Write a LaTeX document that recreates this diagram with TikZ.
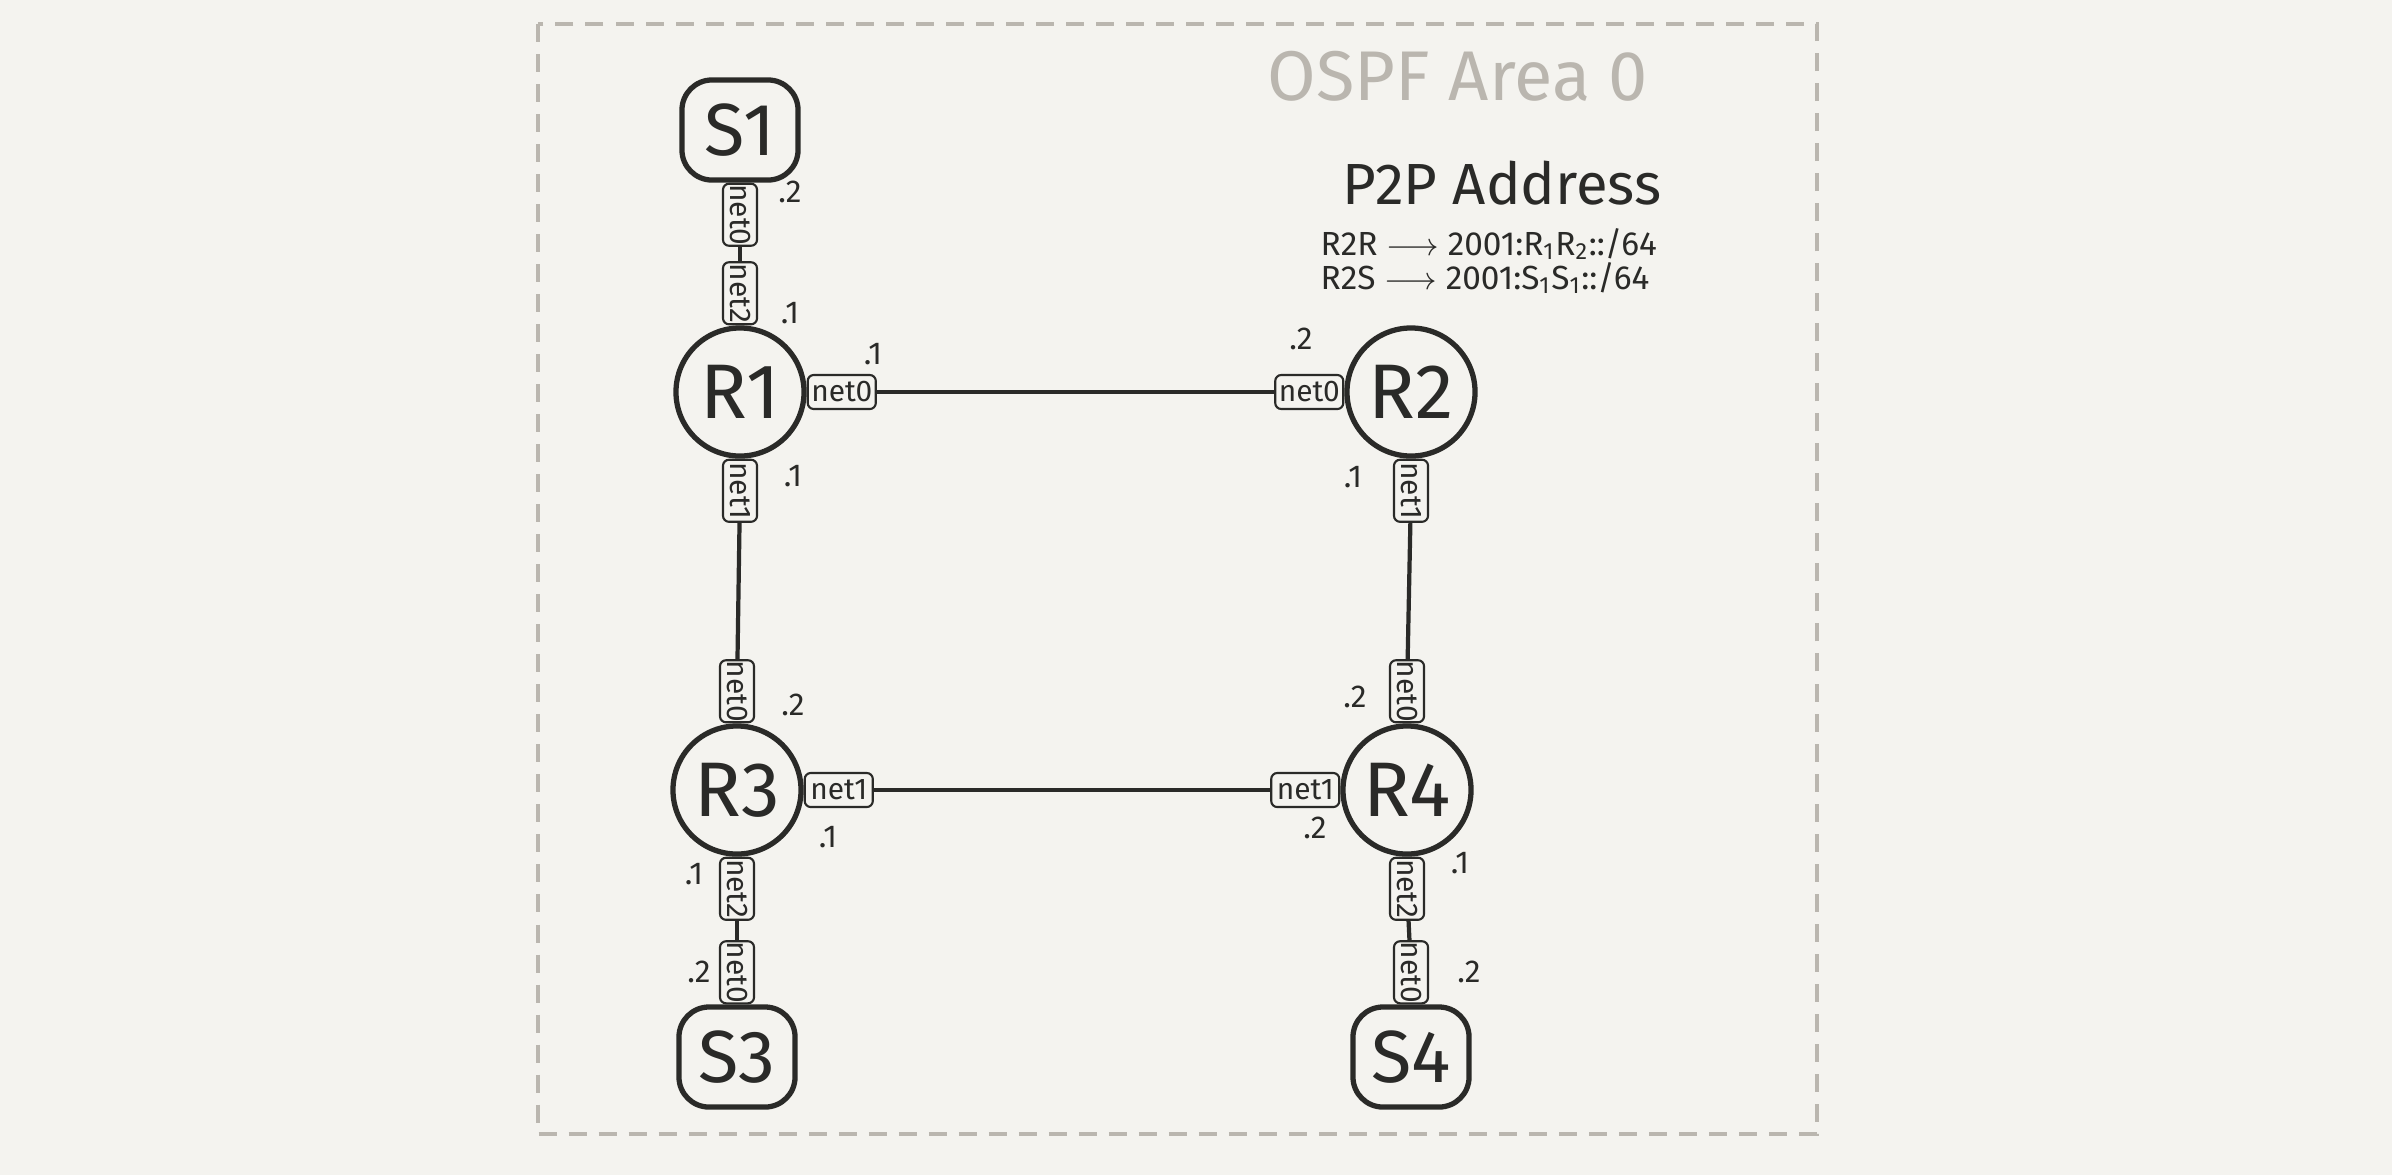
\documentclass[tikz,border=0pt]{standalone}
\usepackage{fontspec}
\setmainfont{Fira Sans}
\usetikzlibrary{positioning}
\definecolor{paper}{HTML}{F4F3EF}
\definecolor{ink}{HTML}{2A2A28}
\definecolor{pencil}{HTML}{BAB6AF}
\newcommand{\vnet}[1]{\rotatebox{-90}{#1}}

\begin{document}
\begin{tikzpicture}[
  x=0.01cm, y=-0.01cm,
  router/.style={draw=ink, line width=1.5pt, circle, minimum size=1.28cm, inner sep=0pt, text=ink, font=\fontsize{22}{26}\selectfont},
  server/.style={draw=ink, line width=1.5pt, rounded corners=0.3cm, minimum width=1.16cm, minimum height=1.0cm, inner sep=0pt, text=ink, font=\fontsize{21}{25}\selectfont},
  iface/.style={draw=ink, line width=0.6pt, rounded corners=0.06cm, minimum width=0.68cm, minimum height=0.34cm, inner sep=0pt, text=ink, font=\fontsize{8.5}{9}\selectfont},
  ifacev/.style={iface, minimum width=0.34cm, minimum height=0.62cm},
  addr/.style={inner sep=0pt, text=ink, font=\fontsize{9}{10}\selectfont},
  link/.style={draw=ink, line width=1.2pt}
]
\fill[paper] (0,0) rectangle (2392,1175);
\path[use as bounding box] (0,0) rectangle (2392,1175);

% Area 0
\draw[pencil, line width=1.3pt, dash pattern=on 0.18cm off 0.12cm] (538,24) rectangle (1817,1134);
\node[text=pencil, font=\fontsize{20}{24}\selectfont] (area) at (1458,76) {OSPF Area 0};

% Address plan
\node[text=ink, font=\fontsize{16.5}{20}\selectfont] (plan) at (1502,183) {P2P Address};
\node[anchor=west, inner sep=0pt, text=ink, font=\fontsize{9.5}{12}\selectfont] (r2r) at (1320,244) {R2R $\longrightarrow$ 2001:R\textsubscript{1}R\textsubscript{2}::/64};
\node[anchor=west, inner sep=0pt, text=ink, font=\fontsize{9.5}{12}\selectfont] (r2s) at (1320,278) {R2S $\longrightarrow$ 2001:S\textsubscript{1}S\textsubscript{1}::/64};

% Routers and servers
\node[server] (S1) at (740,130) {S1};
\node[router] (R1) at (740,392) {R1};
\node[router] (R2) at (1411,392) {R2};
\node[router] (R3) at (737,790) {R3};
\node[router] (R4) at (1407,790) {R4};
\node[server] (S3) at (737,1057) {S3};
\node[server] (S4) at (1411,1057) {S4};

% Interfaces
\node[ifacev, below=0pt of S1] (S1n0) {\vnet{net0}};
\node[ifacev, above=0pt of R1] (R1n2) {\vnet{net2}};
\node[iface, right=0pt of R1] (R1n0) {net0};
\node[ifacev, below=0pt of R1] (R1n1) {\vnet{net1}};
\node[iface, left=0pt of R2] (R2n0) {net0};
\node[ifacev, below=0pt of R2] (R2n1) {\vnet{net1}};
\node[ifacev, above=0pt of R3] (R3n0) {\vnet{net0}};
\node[iface, right=0pt of R3] (R3n1) {net1};
\node[ifacev, below=0pt of R3] (R3n2) {\vnet{net2}};
\node[ifacev, above=0pt of S3] (S3n0) {\vnet{net0}};
\node[ifacev, above=0pt of R4] (R4n0) {\vnet{net0}};
\node[iface, left=0pt of R4] (R4n1) {net1};
\node[ifacev, below=0pt of R4] (R4n2) {\vnet{net2}};
\node[ifacev, above=0pt of S4] (S4n0) {\vnet{net0}};

% Links
\draw[link] (S1n0) -- (R1n2);
\draw[link] (R1n0) -- (R2n0);
\draw[link] (R1n1) -- (R3n0);
\draw[link] (R2n1) -- (R4n0);
\draw[link] (R3n1) -- (R4n1);
\draw[link] (R3n2) -- (S3n0);
\draw[link] (R4n2) -- (S4n0);

% Host parts
\node[addr] (aS1) at (790,192) {.2};
\node[addr] (aR1t) at (790,313) {.1};
\node[addr] (aR1r) at (873,354) {.1};
\node[addr] (aR2l) at (1301,339) {.2};
\node[addr] (aR1b) at (793,476) {.1};
\node[addr] (aR2b) at (1353,477) {.1};
\node[addr] (aR3t) at (793,705) {.2};
\node[addr] (aR3r) at (828,837) {.1};
\node[addr] (aR3b) at (694,874) {.1};
\node[addr] (aS3) at (699,972) {.2};
\node[addr] (aR4t) at (1355,697) {.2};
\node[addr] (aR4l) at (1315,828) {.2};
\node[addr] (aR4b) at (1460,863) {.1};
\node[addr] (aS4) at (1469,972) {.2};
\end{tikzpicture}
\end{document}
